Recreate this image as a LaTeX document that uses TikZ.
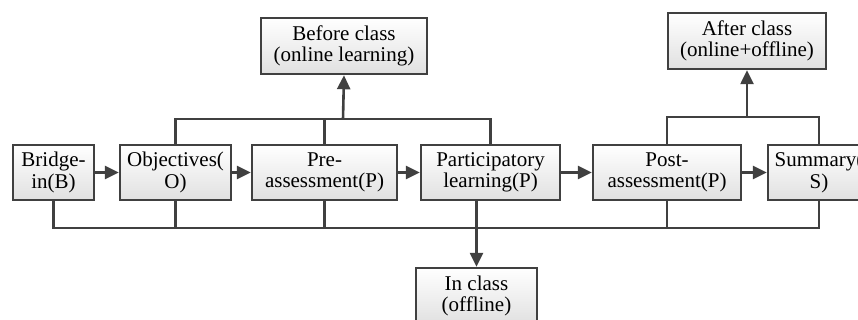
\documentclass[tikz,border=0pt]{standalone}
\usepackage{fontspec}
\setmainfont{Liberation Serif}
\usetikzlibrary{arrows.meta}
\definecolor{ln}{HTML}{404040}
\tikzset{
  box/.style={draw=ln, line width=1.5pt, top color=white, bottom color=black!12,
    align=center, inner sep=0pt, minimum height=55pt,
    font=\fontsize{21}{21.5}\selectfont},
  wire/.style={draw=ln, line width=2.6pt},
  arr/.style={wire, -{Triangle[length=14pt,width=13pt]}, shorten >=0.5pt}
}
\begin{document}
\begin{tikzpicture}[x=1pt,y=-1pt]
\useasboundingbox (0,0) rectangle (858,320);
\clip (0,0) rectangle (858,320);
% main row
\node[box, minimum width=81pt]  (B)  at (53.5,172.5) {Bridge-\\in(B)};
\node[box, minimum width=111pt] (O)  at (175.5,172.5) {Objectives(\\O)};
\node[box, minimum width=145pt] (PA) at (324.5,172.5) {Pre-\\assessment(P)};
\node[box, minimum width=139pt] (PL) at (490.5,172.5) {Participatory\\learning(P)};
\node[box, minimum width=148pt] (PO) at (667,172.5) {Post-\\assessment(P)};
\node[box, minimum width=102pt] (S)  at (819,172.5) {Summary(\\S)};
% phase boxes
\node[box, minimum width=166pt, minimum height=56pt] (BC) at (344,46) {Before class\\(online learning)};
\node[box, minimum width=158pt, minimum height=56pt] (AC) at (747,41) {After class\\(online+offline)};
\node[box, minimum width=121pt, minimum height=56pt] (IC) at (476.5,296) {In class\\(offline)};
% bus coordinates
\coordinate (ub1) at (343,119);
\coordinate (ub2) at (747,117);
\coordinate (lb)  at (476.5,228);
% horizontal arrows
\draw[arr] (B.east)  -- (O.west);
\draw[arr] (O.east)  -- (PA.west);
\draw[arr] (PA.east) -- (PL.west);
\draw[arr] (PL.east) -- (PO.west);
\draw[arr] (PO.east) -- (S.west);
% upper left bus
\draw[wire] (O.north) |- (ub1) -| (PL.north);
\draw[wire] (PA.north) -- (PA.north |- ub1);
\draw[arr] (ub1) -- (BC.south);
% upper right bus
\draw[wire] (PO.north) |- (ub2) -| (S.north);
\draw[arr] (ub2) -- (AC.south);
% lower bus
\draw[wire] (B.south) |- (lb) -| (S.south);
\draw[wire] (O.south) -- (O.south |- lb);
\draw[wire] (PA.south) -- (PA.south |- lb);
\draw[wire] (PO.south) -- (PO.south |- lb);
\draw[arr] (PL.south -| IC.north) -- (IC.north);
\end{tikzpicture}
\end{document}
